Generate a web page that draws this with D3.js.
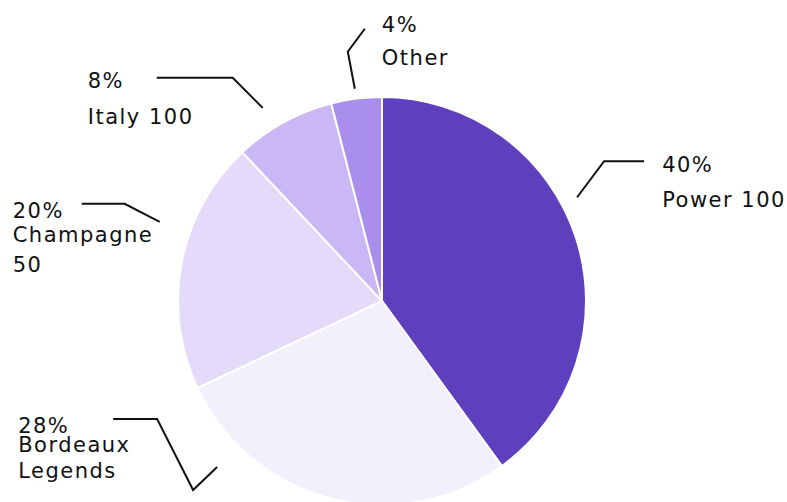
<!DOCTYPE html>
<html>
<head>
<meta charset="utf-8">
<script src="https://cdn.jsdelivr.net/npm/d3@7"></script>
<style>
  body { margin: 0; background: #fff; }
  svg { display: block; }
</style>
</head>
<body>
<div id="chart"></div>
<script>
// pie of share by segment, slices run clockwise from 12 o'clock
var categories = ['Power 100', 'Bordeaux Legends', 'Champagne 50', 'Italy 100', 'Other'];
var labelLines = [['Power 100'], ['Bordeaux', 'Legends'], ['Champagne', '50'], ['Italy 100'], ['Other']];
var shares = [40, 28, 20, 8, 4];
var colors = ['#5e3fbe', '#f3effd', '#e4dafa', '#c9b8f5', '#aa8eeb'];

var w = 787;
var h = 502;
var cx = 382, cy = 301, radius = 204;

var data = categories.map((c, i) => ({cat: c, lines: labelLines[i], value: shares[i], color: colors[i]}));

// leader layout: start (angle deg, radius), then relative bends, then text offsets from last point
var leaders = [
  {angle: 62,    r: 221, bends: [[27, -36], [67, -36]],              tx: 18,  ty1: 11, ty2: 46, gap: 36},
  {angle: 224.8, r: 234, bends: [[-24, 23], [-60, -48], [-104, -48]], tx: -95, ty1: 14, ty2: 33, gap: 26},
  {angle: -70.4, r: 236, bends: [[-35, -18], [-78, -18]],            tx: -69, ty1: 14, ty2: 38, gap: 30},
  {angle: -31.7, r: 227, bends: [[-30, -30], [-106, -30]],           tx: -69, ty1: 10, ty2: 46, gap: 36},
  {angle: -7.3,  r: 214, bends: [[-7, -37], [10, -60]],              tx: 17,  ty1: 3,  ty2: 36, gap: 33}
];

var svg = d3.select('#chart')
  .append('svg')
  .attr('width', w)
  .attr('height', h);

var pie = d3.pie()
  .sort(null)
  .value(d => d.value);

var arc = d3.arc()
  .innerRadius(0)
  .outerRadius(radius);

var arcs = pie(data);

var g = svg.append('g')
  .attr('transform', 'translate(' + cx + ',' + cy + ')');

g.selectAll('path')
  .data(arcs)
  .enter()
  .append('path')
  .attr('d', arc)
  .attr('fill', d => d.data.color)
  .attr('stroke', '#fff')
  .attr('stroke-width', 2);

function polar(a, r) {
  var rad = a * Math.PI / 180;
  return [r * Math.sin(rad), -r * Math.cos(rad)];
}

var total = d3.sum(shares);

arcs.forEach(function(d, i) {
  var L = leaders[i];
  var s = polar(L.angle, L.r);
  var pts = [s].concat(L.bends.map(b => [s[0] + b[0], s[1] + b[1]]));
  var last = pts[pts.length - 1];

  g.append('path')
    .attr('d', d3.line()(pts))
    .attr('fill', 'none')
    .attr('stroke', '#111')
    .attr('stroke-width', 2);

  var tx = last[0] + L.tx;
  var t = g.append('text')
    .attr('font-family', 'DejaVu Sans, sans-serif')
    .attr('font-size', 21)
    .attr('letter-spacing', 1.5)
    .attr('fill', '#111');
  t.append('tspan')
    .attr('x', tx)
    .attr('y', last[1] + L.ty1)
    .text(Math.round(d.data.value / total * 100) + '%');
  d.data.lines.forEach(function(line, j) {
    t.append('tspan')
      .attr('x', tx)
      .attr('y', last[1] + L.ty2 + j * L.gap)
      .text(line);
  });
});
</script>
</body>
</html>
